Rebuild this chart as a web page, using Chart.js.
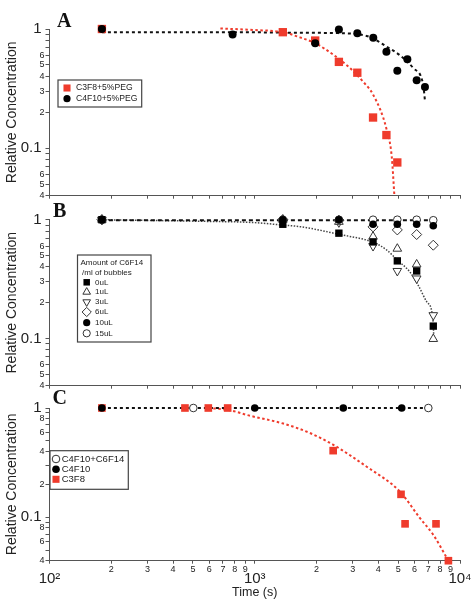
<!DOCTYPE html>
<html>
<head>
<meta charset="utf-8">
<script src="https://cdn.jsdelivr.net/npm/chart.js@4.4.1/dist/chart.umd.min.js"></script>
<style>
html, body { margin: 0; padding: 0; background: #fff; }
#wrap { position: relative; width: 473px; height: 609px; }
#wrap canvas { position: absolute; left: 0; top: 0; }
</style>
</head>
<body>
<div id="wrap">
    <canvas id="panel-a" width="473" height="609"></canvas>
    <canvas id="panel-b" width="473" height="609"></canvas>
    <canvas id="panel-c" width="473" height="609"></canvas>
</div>
<script>
// shared axis ticks
const X_TICKS = [100, 200, 300, 400, 500, 600, 700, 800, 900, 1000, 2000, 3000, 4000, 5000, 6000, 7000, 8000, 9000, 10000];
const X_TICK_LABELS = ['10\u00b2', '2', '3', '4', '5', '6', '7', '8', '9', '10\u00b3', '2', '3', '4', '5', '6', '7', '8', '9', '10\u2074'];
const X_MAJOR = [100, 1000, 10000];
const Y_TICKS = [0.04, 0.05, 0.06, 0.07, 0.08, 0.09, 0.1, 0.2, 0.3, 0.4, 0.5, 0.6, 0.7, 0.8, 0.9, 1];
const Y_LABELS_AB = ['4', '5', '6', '', '', '', '0.1\u2009', '2', '3', '4', '5', '6', '', '', '', '1\u2009'];
const Y_LABELS_C = ['4', '', '6', '', '8', '', '0.1\u2009', '2', '', '4', '', '6', '', '8', '', '1\u2009'];
const Y_MAJOR = [0.1, 1];

// panel A
const A_TIME_C3F8 = [180, 1370, 1970, 2570, 3160, 3770, 4380, 4950];
const A_C3F8 = [1.0, 0.94, 0.80, 0.53, 0.43, 0.181, 0.129, 0.076];
const A_TIME_C4F10 = [180, 780, 1970, 2570, 3160, 3780, 4380, 4950, 5540, 6150, 6750];
const A_C4F10 = [1.0, 0.90, 0.76, 0.99, 0.92, 0.845, 0.645, 0.446, 0.557, 0.372, 0.327];
const A_FIT_TIME_C3F8 = [680, 1000, 1370, 1660, 1970, 2410, 2910, 3380, 3780, 4380, 4650, 4790];
const A_FIT_C3F8 = [1.01, 0.98, 0.94, 0.85, 0.76, 0.61, 0.47, 0.36, 0.28, 0.146, 0.085, 0.04];
const A_FIT_TIME_C4F10 = [180, 800, 1660, 2410, 3510, 4400, 5110, 5920, 6620, 6750];
const A_FIT_C4F10 = [0.94, 0.94, 0.93, 0.925, 0.875, 0.71, 0.60, 0.47, 0.34, 0.25];

// panel B
const B_TIME = [180, 1370, 2570, 3770, 4950, 6150, 7410];
const B_0UL = [1.0, 0.915, 0.77, 0.65, 0.45, 0.37, 0.127];
const B_1UL = [1.0, 1.0, 0.96, 0.72, 0.57, 0.42, 0.099];
const B_3UL = [1.0, 0.97, 0.95, 0.60, 0.37, 0.32, 0.157];
const B_6UL = [1.0, 1.0, 0.99, 0.87, 0.82, 0.75, 0.61];
const B_10UL = [1.0, 1.0, 1.0, 0.915, 0.915, 0.915, 0.89];
const B_15UL = [1.0, 1.0, 1.0, 1.0, 1.0, 1.0, 0.99];
const B_FIT_TIME_FLAT = [180, 7410];
const B_FIT_FLAT = [0.99, 0.99];
const B_FIT_TIME_CURVE = [180, 540, 1000, 1370, 1660, 2570, 3770, 4400, 4950, 5690, 6260, 6880, 7380, 7450];
const B_FIT_CURVE = [1.0, 0.97, 0.945, 0.90, 0.874, 0.753, 0.645, 0.555, 0.457, 0.364, 0.28, 0.204, 0.147, 0.105];

// panel C
const C_TIME_MIX = [502, 7010];
const C_MIX = [1.0, 1.0];
const C_TIME_C4F10 = [180, 1000, 2700, 5200];
const C_C4F10 = [1.0, 1.0, 1.0, 1.0];
const C_TIME_C3F8 = [180, 457, 594, 738, 2410, 5160, 5400, 7640, 8780];
const C_C3F8 = [1.0, 1.0, 1.0, 1.0, 0.407, 0.162, 0.087, 0.087, 0.040];
const C_FIT_TIME_FLAT = [180, 7010];
const C_FIT_FLAT = [1.0, 1.0];
const C_FIT_TIME_C3F8 = [594, 742, 946, 1377, 1857, 2414, 3512, 5107, 6383, 7413, 8775];
const C_FIT_C3F8 = [1.0, 0.96, 0.85, 0.72, 0.59, 0.46, 0.29, 0.171, 0.098, 0.069, 0.04];

const FONT = "'Liberation Sans', Arial, Helvetica, sans-serif";
const RED = '#ef3b2c';
const AXIS = '#555';
const TEXT = '#222';

function pts(xs, ys){
    return xs.map(function(x, i){ return {x: x, y: ys[i]}; });
}

/**
 * Marker dataset.
 */
function markers(label, xs, ys, style, rotation, radius, fill, border){
    return {
        label: label, data: pts(xs, ys), clip: false,
        pointStyle: style, pointRadius: radius, pointRotation: rotation,
        backgroundColor: fill, borderColor: border || fill,
        pointBackgroundColor: fill, pointBorderColor: border || fill,
        pointBorderWidth: border ? 1 : 0, borderWidth: border ? 1 : 0,
        showLine: false
    };
}

/**
 * Fitted curve dataset.
 */
function fit(xs, ys, color, dash, width){
    return {
        data: pts(xs, ys), clip: false, showLine: true, pointRadius: 0,
        borderColor: color, borderWidth: width, borderDash: dash,
        cubicInterpolationMode: 'monotone', fill: false
    };
}

function xScale(showLabels, axisHeight){
    return {
        type: 'logarithmic', position: 'bottom', min: 100, max: 10000,
        afterBuildTicks: function(s){ s.ticks = X_TICKS.map(function(v){ return {value: v}; }); },
        afterFit: function(s){ s.height = axisHeight; },
        border: {color: AXIS, width: 1},
        grid: {drawOnChartArea: false, tickLength: 3, color: AXIS},
        ticks: {
            display: showLabels, autoSkip: false, maxRotation: 0, minRotation: 0, padding: 1, color: TEXT,
            callback: function(v, i){ return X_TICK_LABELS[i]; },
            font: function(c){
                var major = c.tick && X_MAJOR.indexOf(c.tick.value) >= 0;
                return major ? {family: FONT, size: 15, lineHeight: '28px'} : {family: FONT, size: 9, lineHeight: '9px'};
            }
        },
        title: {display: showLabels, text: 'Time (s)', color: TEXT, font: {family: FONT, size: 12.5}, padding: {top: 0, bottom: 9}}
    };
}

function yScale(labels){
    return {
        type: 'logarithmic', position: 'left', min: 0.04, max: 1,
        afterBuildTicks: function(s){ s.ticks = Y_TICKS.map(function(v){ return {value: v}; }); },
        afterFit: function(s){ s.width = 49.5; },
        border: {color: AXIS, width: 1},
        grid: {drawOnChartArea: false, tickLength: 4, color: AXIS},
        ticks: {
            autoSkip: false, padding: 1, color: TEXT,
            callback: function(v, i){ return labels[i]; },
            font: function(c){
                var major = c.tick && Y_MAJOR.indexOf(c.tick.value) >= 0;
                return major ? {family: FONT, size: 15} : {family: FONT, size: 9};
            }
        },
        title: {display: true, text: 'Relative Concentration', color: TEXT, font: {family: FONT, size: 14}, padding: {top: 3.5, bottom: 0}}
    };
}

/**
 * Bold panel letter in the top left corner.
 */
function letterPlugin(letter, dx, dy){
    return {
        id: 'panelLetter',
        afterDraw: function(chart){
            var a = chart.chartArea, ctx = chart.ctx;
            ctx.save();
            ctx.font = 'bold 20px "Liberation Serif", "Times New Roman", serif';
            ctx.fillStyle = '#111';
            ctx.textBaseline = 'alphabetic';
            ctx.fillText(letter, a.left + dx, a.top + dy);
            ctx.restore();
        }
    };
}

/**
 * Framed legend drawn inside the plot.
 */
function legendPlugin(cfg){
    return {
        id: 'boxLegend',
        afterDraw: function(chart){
            var ctx = chart.ctx;
            ctx.save();
            ctx.fillStyle = '#fff';
            ctx.fillRect(cfg.x, cfg.y, cfg.w, cfg.h);
            ctx.strokeStyle = '#444';
            ctx.lineWidth = 1.2;
            ctx.strokeRect(cfg.x, cfg.y, cfg.w, cfg.h);
            ctx.font = cfg.size + 'px ' + FONT;
            ctx.textBaseline = 'middle';
            ctx.fillStyle = TEXT;
            (cfg.title || []).forEach(function(t, i){
                ctx.fillText(t, cfg.titleX[i], cfg.titleY[i]);
            });
            cfg.items.forEach(function(idx, i){
                var ds = chart.data.datasets[idx];
                ctx.fillStyle = ds.pointBackgroundColor;
                ctx.strokeStyle = ds.pointBorderColor;
                ctx.lineWidth = ds.pointBorderWidth;
                Chart.helpers.drawPoint(ctx, {
                    pointStyle: ds.pointStyle, rotation: ds.pointRotation, radius: cfg.radius[i],
                    borderWidth: ds.pointBorderWidth
                }, cfg.markX, cfg.rows[i]);
                ctx.fillStyle = TEXT;
                ctx.fillText(ds.label, cfg.textX, cfg.rows[i]);
            });
            ctx.restore();
        }
    };
}

function makePanel(id, datasets, yLabels, showX, pad, xHeight, plugins){
    return new Chart(document.getElementById(id).getContext('2d'), {
        type: 'scatter',
        data: {datasets: datasets},
        options: {
            responsive: false, animation: false, events: [],
            layout: {padding: pad},
            scales: {x: xScale(showX, xHeight), y: yScale(yLabels)},
            plugins: {legend: {display: false}, tooltip: {enabled: false}}
        },
        plugins: plugins
    });
}

// A
makePanel('panel-a', [
    markers('C4F10+5%PEG', A_TIME_C4F10, A_C4F10, 'circle', 0, 4, '#000'),
    markers('C3F8+5%PEG', A_TIME_C3F8, A_C3F8, 'rect', 0, 5.9, RED),
    fit(A_FIT_TIME_C3F8, A_FIT_C3F8, RED, [2.5, 2.5], 2),
    fit(A_FIT_TIME_C4F10, A_FIT_C4F10, '#111', [3, 3], 2)
], Y_LABELS_AB, false, {top: 29, bottom: 409.3, left: 0, right: 13}, 4, [
    letterPlugin('A', 7.5, -2),
    legendPlugin({x: 58, y: 80, w: 83.7, h: 27, size: 8.6, markX: 67, textX: 76, rows: [88, 98.7], radius: [5, 3.6], items: [1, 0]})
]);

// B
makePanel('panel-b', [
    markers('10uL', B_TIME, B_10UL, 'circle', 0, 3.8, '#000'),
    markers('0uL', B_TIME, B_0UL, 'rect', 0, 5.2, '#000'),
    markers('15uL', B_TIME, B_15UL, 'circle', 0, 3.8, '#fff', '#333'),
    markers('1uL', B_TIME, B_1UL, 'triangle', 0, 5, '#fff', '#333'),
    markers('3uL', B_TIME, B_3UL, 'triangle', 180, 5, '#fff', '#333'),
    markers('6uL', B_TIME, B_6UL, 'rectRot', 0, 5, '#fff', '#333'),
    fit(B_FIT_TIME_FLAT, B_FIT_FLAT, '#111', [4, 3], 2),
    fit(B_FIT_TIME_CURVE, B_FIT_CURVE, '#444', [1.5, 1.5], 1.5)
], Y_LABELS_AB, false, {top: 219.7, bottom: 219.3, left: 0, right: 13}, 4, [
    letterPlugin('B', 3.5, -3),
    legendPlugin({x: 77.5, y: 255, w: 73.5, h: 87, size: 8,
        title: ['Amount of C6F14', '/ml of bubbles'], titleX: [80.5, 82], titleY: [262.7, 272.3],
        markX: 86.7, textX: 95, rows: [282.3, 292, 302, 312, 322.7, 333.3],
        radius: [4.6, 4.4, 4.4, 4.6, 3.6, 3.6], items: [1, 3, 4, 5, 0, 2]})
]);

// C
makePanel('panel-c', [
    markers('C4F10+C6F14', C_TIME_MIX, C_MIX, 'circle', 0, 3.8, '#fff', '#333'),
    markers('C4F10', C_TIME_C4F10, C_C4F10, 'circle', 0, 3.8, '#000'),
    markers('C3F8', C_TIME_C3F8, C_C3F8, 'rect', 0, 5.4, RED),
    fit(C_FIT_TIME_FLAT, C_FIT_FLAT, '#111', [3, 3], 2),
    fit(C_FIT_TIME_C3F8, C_FIT_C3F8, RED, [2.5, 2.5], 2)
], Y_LABELS_C, true, {top: 408, bottom: 0, left: 0, right: 13}, 48.3, [
    letterPlugin('C', 3, -4),
    legendPlugin({x: 50, y: 450.7, w: 78.3, h: 38.6, size: 9.5, markX: 56, textX: 61.7, rows: [459, 469.3, 479.3], radius: [3.8, 3.8, 5], items: [0, 1, 2]})
]);
</script>
</body>
</html>
